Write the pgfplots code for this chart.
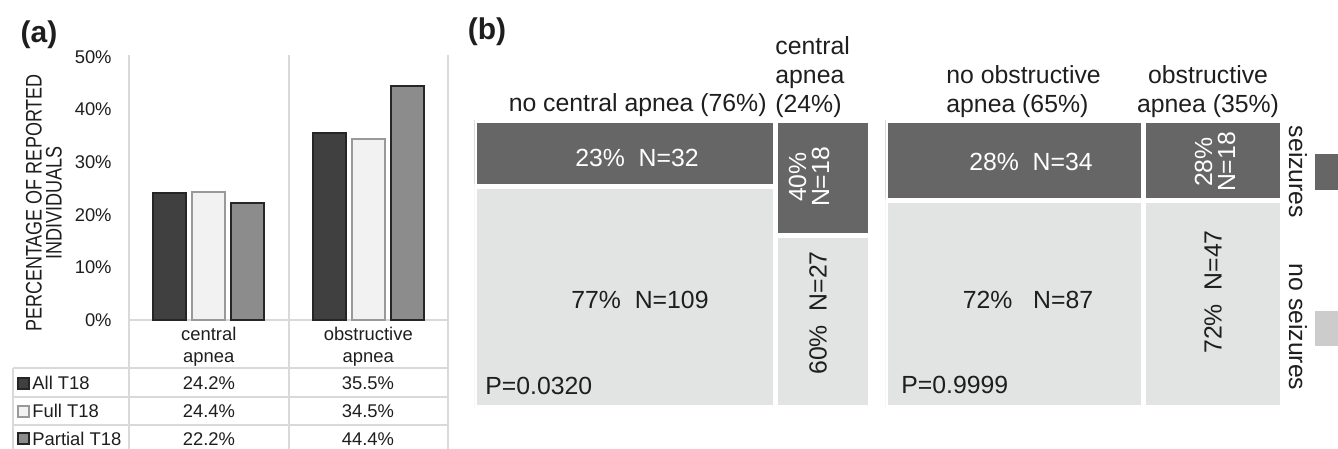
\documentclass[border=0pt]{standalone}
\usepackage{pgfplots}
\pgfplotsset{compat=1.18}
\usepackage{fontspec}
\setmainfont{Liberation Sans}

\definecolor{barDark}{HTML}{404040}
\definecolor{barLight}{HTML}{F2F2F2}
\definecolor{barMid}{HTML}{8C8C8C}
\definecolor{edgeDark}{HTML}{262626}
\definecolor{edgeLight}{HTML}{999999}
\definecolor{cellDark}{HTML}{666666}
\definecolor{cellLight}{HTML}{E2E3E3}
\definecolor{swLight}{HTML}{CCCCCC}
\definecolor{gridc}{HTML}{D9D9D9}
\definecolor{txt}{HTML}{1E1E1E}

\newcommand{\fa}{\fontsize{9.2bp}{11bp}\selectfont}
\newcommand{\fb}{\fontsize{12.4bp}{14.5bp}\selectfont}

\begin{document}
% one unit = one pixel of a 1338 x 449 canvas, y running downwards
\begin{tikzpicture}[x=0.5bp,y=-0.5bp]
\useasboundingbox (0,0) rectangle (1338,449);

% ---------------- panel (a): grid and table rules ----------------
\begin{scope}[gridc, line width=0.8bp]
  \draw (129,55) -- (129,449);
  \draw (289,55) -- (289,449);
  \draw (448,55) -- (448,449);
  \draw (129,320) -- (448,320);
  \draw (13,368) -- (448,368);
  \draw (13,397) -- (448,397);
  \draw (13,425) -- (448,425);
  \draw (13,368) -- (13,449);
\end{scope}

\begin{axis}[at={(64.5bp,-160bp)}, anchor=south west, scale only axis,
  width=159.5bp, height=131.5bp,
  xmin=-0.5, xmax=1.5, ymin=0, ymax=50,
  ybar=3bp, bar width=16.5bp,
  axis line style={draw=none}, major tick length=0pt,
  xtick={0,1}, xticklabels={central\\apnea, obstructive\\apnea},
  xticklabel style={align=center, font=\fa, text=txt, inner sep=0pt, yshift=-3.5bp},
  ytick={0,10,...,50},
  /pgf/number format/assume math mode=true,
  yticklabel={\pgfmathprintnumber{\tick}\%},
  yticklabel style={font=\fa, text=txt, inner sep=0pt, xshift=-8.5bp},
  clip=false]
  \addplot[fill=barDark, draw=edgeDark, line width=1bp] coordinates {(0,24.2) (1,35.5)};
  \addplot[fill=barLight, draw=edgeLight, line width=1bp] coordinates {(0,24.4) (1,34.5)};
  \addplot[fill=barMid, draw=edgeDark, line width=1bp] coordinates {(0,22.2) (1,44.4)};
\end{axis}

\node[rotate=90, yscale=1.25, align=center, font=\fontsize{9bp}{8bp}\selectfont, text=txt] at (44,203)
  {PERCENTAGE OF REPORTED\\INDIVIDUALS};

% table body
\begin{scope}[font=\fa, text=txt]
  \draw[fill=barDark, draw=edgeDark, line width=0.6bp] (18,378) rectangle (29,389);
  \draw[fill=barLight, draw=edgeLight, line width=0.6bp] (18,406) rectangle (29,417);
  \draw[fill=barMid, draw=edgeDark, line width=0.6bp] (18,433) rectangle (29,444);
  \node[anchor=west, inner sep=0pt] at (32,383) {All T18};
  \node[anchor=west, inner sep=0pt] at (32,411) {Full T18};
  \node[anchor=west, inner sep=0pt] at (32,439) {Partial T18};
  \node at (209,383) {24.2\%};
  \node at (209,411) {24.4\%};
  \node at (209,439) {22.2\%};
  \node at (368,383) {35.5\%};
  \node at (368,411) {34.5\%};
  \node at (368,439) {44.4\%};
\end{scope}

\node[font=\fontsize{15bp}{18bp}\selectfont\bfseries, text=txt] at (39,35) {(a)};
\node[font=\fontsize{15bp}{18bp}\selectfont\bfseries, text=txt] at (487,32) {(b)};

% ---------------- panel (b): mosaic, central apnea ----------------
\begin{axis}[at={(237.125bp,-60.125bp)}, anchor=north west, scale only axis,
  width=198.25bp, height=143.75bp, xmin=0, xmax=100, ymin=0, ymax=100,
  y dir=reverse, hide axis]
  \addplot[fill=cellDark, draw=white, line width=2.5bp] coordinates {(0,0) (76,0) (76,23) (0,23)} -- cycle;
  \addplot[fill=cellLight, draw=white, line width=2.5bp] coordinates {(0,23) (76,23) (76,100) (0,100)} -- cycle;
  \addplot[fill=cellDark, draw=white, line width=2.5bp] coordinates {(76,0) (100,0) (100,40) (76,40)} -- cycle;
  \addplot[fill=cellLight, draw=white, line width=2.5bp] coordinates {(76,40) (100,40) (100,100) (76,100)} -- cycle;
\end{axis}

% ---------------- panel (b): mosaic, obstructive apnea ----------------
\begin{axis}[at={(442.625bp,-60.125bp)}, anchor=north west, scale only axis,
  width=198.75bp, height=143.75bp, xmin=0, xmax=100, ymin=0, ymax=100,
  y dir=reverse, hide axis]
  \addplot[fill=cellDark, draw=white, line width=2.5bp] coordinates {(0,0) (65,0) (65,28) (0,28)} -- cycle;
  \addplot[fill=cellLight, draw=white, line width=2.5bp] coordinates {(0,28) (65,28) (65,100) (0,100)} -- cycle;
  \addplot[fill=cellDark, draw=white, line width=2.5bp] coordinates {(65,0) (100,0) (100,28) (65,28)} -- cycle;
  \addplot[fill=cellLight, draw=white, line width=2.5bp] coordinates {(65,28) (100,28) (100,100) (65,100)} -- cycle;
\end{axis}

% headers
\begin{scope}[font=\fb, text=txt, inner sep=0pt]
  \node[anchor=base east] at (767,112) {no central apnea (76\%)};
  \node[anchor=south west, align=left] at (775,118) {central\\apnea\\(24\%)};
  \node[anchor=south west, align=left] at (946,118) {no obstructive\\apnea (65\%)};
  \node[anchor=south, align=center] at (1208,118) {obstructive\\apnea (35\%)};
\end{scope}

% cell labels
\begin{scope}[font=\fb]
  \node[text=white] at (637,158) {23\%\ \ N=32};
  \node[text=white, rotate=90, align=center, font=\fontsize{12.4bp}{11.5bp}\selectfont] at (809,177) {40\%\\N=18};
  \node[text=txt] at (640,300) {77\%\ \ N=109};
  \node[text=txt, rotate=90] at (818,313) {60\%\ \ N=27};
  \node[text=txt, anchor=west, inner sep=0pt] at (485,386) {P=0.0320};
  \node[text=white] at (1031,162) {28\%\ \ N=34};
  \node[text=white, rotate=90, align=center, font=\fontsize{12.4bp}{11.5bp}\selectfont] at (1215,162) {28\%\\N=18};
  \node[text=txt] at (1028,300) {72\%\ \ \ N=87};
  \node[text=txt, rotate=90] at (1213,292) {72\%\ \ N=47};
  \node[text=txt, anchor=west, inner sep=0pt] at (901,385) {P=0.9999};
  \node[text=txt, rotate=-90] at (1298,172) {seizures};
  \node[text=txt, rotate=-90] at (1298,327) {no seizures};
\end{scope}

% legend swatches
\fill[cellDark] (1315,154) rectangle (1352,190);
\fill[swLight] (1315,311) rectangle (1352,346);
\end{tikzpicture}
\end{document}
